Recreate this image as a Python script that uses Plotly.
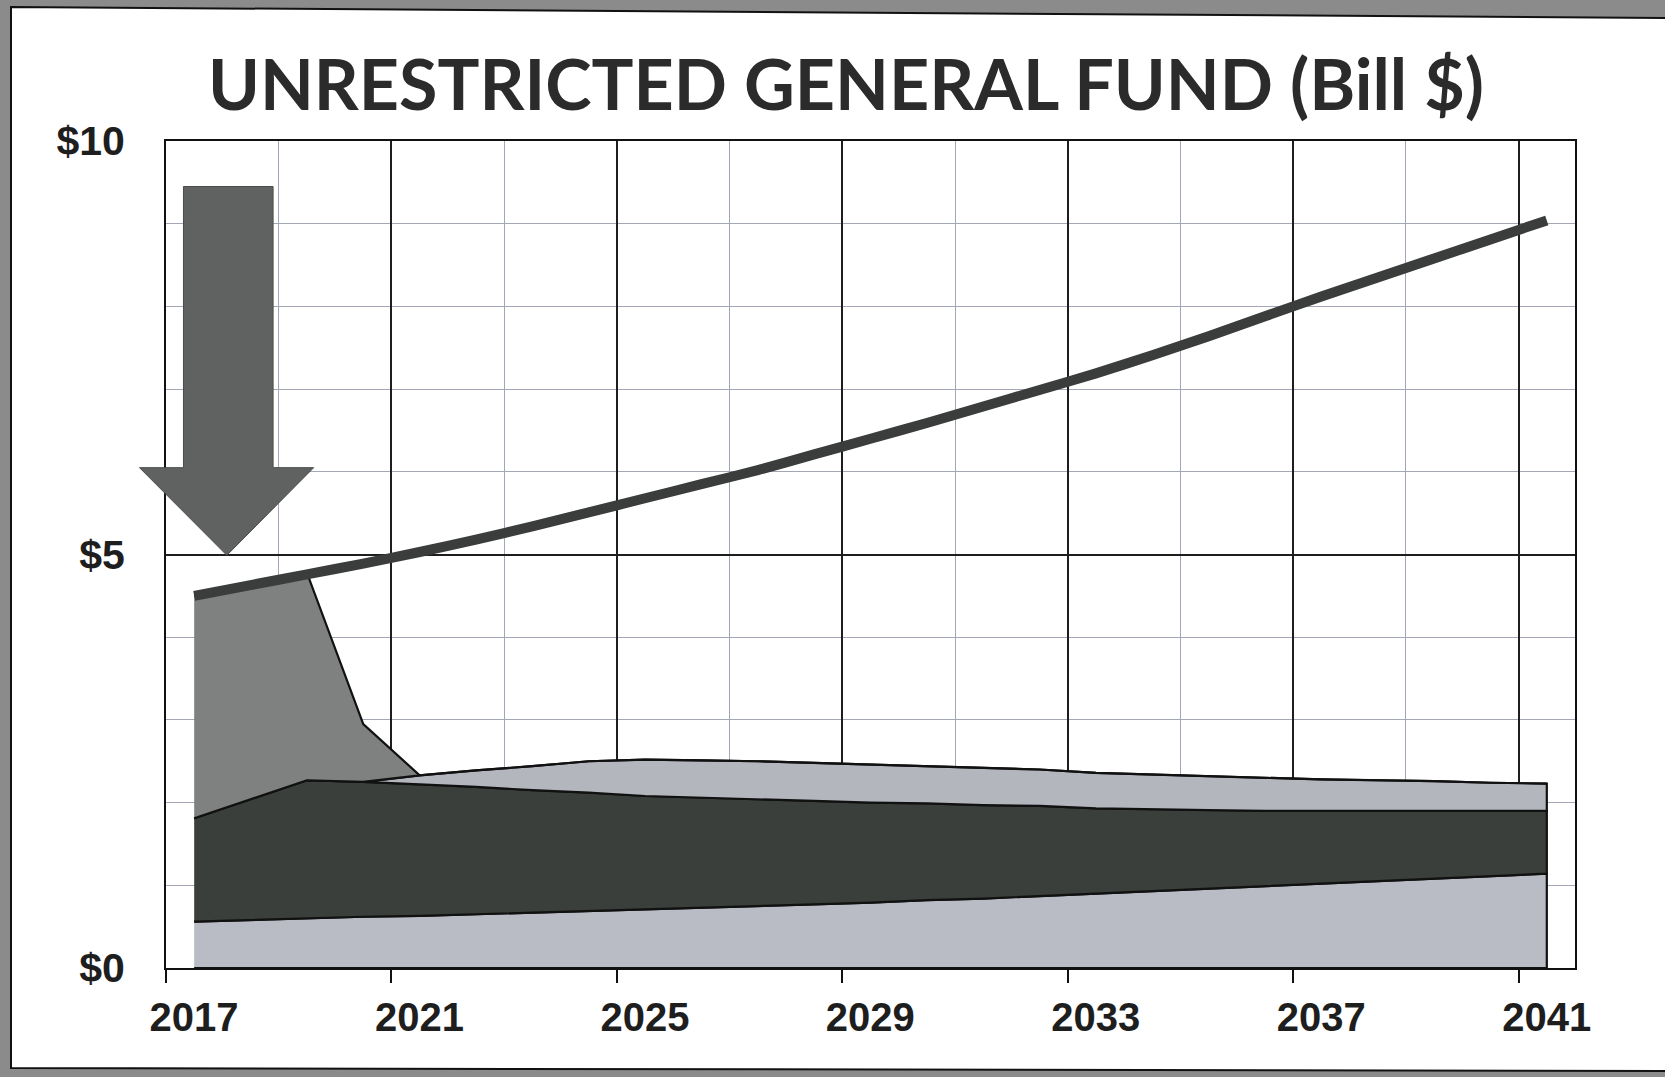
import plotly.graph_objects as go

# ---------------- data ----------------
years = list(range(2017, 2042))
base_layer = [0.56, 0.58, 0.60, 0.62, 0.63, 0.65, 0.67, 0.69, 0.71, 0.73, 0.75, 0.77, 0.79,
              0.82, 0.84, 0.87, 0.90, 0.93, 0.96, 0.99, 1.02, 1.05, 1.08, 1.11, 1.14]
dark_layer = [1.25, 1.46, 1.67, 1.63, 1.59, 1.54, 1.48, 1.43, 1.37, 1.33, 1.29, 1.25, 1.21,
              1.17, 1.13, 1.09, 1.03, 0.99, 0.95, 0.91, 0.88, 0.85, 0.82, 0.79, 0.76]
light_layer = [0.00, 0.00, 0.00, 0.00, 0.11, 0.20, 0.29, 0.38, 0.44, 0.45, 0.46, 0.46, 0.46,
               0.45, 0.45, 0.44, 0.43, 0.42, 0.41, 0.40, 0.38, 0.37, 0.36, 0.34, 0.33]
mid_layer = [2.69, 2.60, 2.51, 0.70, 0.00, 0.00, 0.00, 0.00, 0.00, 0.00, 0.00, 0.00, 0.00,
             0.00, 0.00, 0.00, 0.00, 0.00, 0.00, 0.00, 0.00, 0.00, 0.00, 0.00, 0.00]
total_line = [4.50, 4.63, 4.76, 4.89, 5.03, 5.18, 5.34, 5.51, 5.68, 5.85, 6.02, 6.21, 6.40,
              6.59, 6.79, 6.99, 7.19, 7.41, 7.64, 7.88, 8.12, 8.35, 8.58, 8.81, 9.04]
tick_labels = ["2017", "2021", "2025", "2029", "2033", "2037", "2041"]
title_text = "UNRESTRICTED GENERAL FUND (Bill $)"

# ---------------- layout geometry ----------------
W, H = 1665, 1077
ML, MR, MT, MB = 166, 90, 141, 109
PW, PH = W - ML - MR, H - MT - MB
X0, X1 = 2016.5, 2041.5


def px_to_paper(px, py):
    return (px - ML) / PW, (H - MB - py) / PH


def data_to_paper(x, y):
    return (x - X0) / (X1 - X0), y / 10.0


fig = go.Figure()

layers = [
    (base_layer, "#b9bbc5"),
    (dark_layer, "#3b3f3b"),
    (light_layer, "#b4b6be"),
    (mid_layer, "#7e817f"),
]
bottom = [0.0] * len(years)
for vals, col in layers:
    top = [b + v for b, v in zip(bottom, vals)]
    fig.add_trace(go.Scatter(
        x=years + years[::-1], y=top + bottom[::-1],
        mode="lines", fill="toself", fillcolor=col,
        line=dict(color="#111111", width=2.2), hoverinfo="skip", showlegend=False))
    bottom = top

fig.add_trace(go.Scatter(
    x=years, y=total_line, mode="lines",
    line=dict(color="#3a3d3c", width=10, shape="spline", smoothing=0.6),
    showlegend=False))

# white sheet on gray scanner background
corners = [px_to_paper(11, 7), px_to_paper(1670, 18), px_to_paper(1670, 1071), px_to_paper(11, 1068)]
path = "M " + " L ".join(f"{a:.5f},{b:.5f}" for a, b in corners) + " Z"
shapes = [dict(type="path", xref="paper", yref="paper", path=path,
               fillcolor="white", line=dict(color="#111111", width=2), layer="below")]

# big arrow (decorative)
arrow_pts = [(2016.81, 9.45), (2018.40, 9.45), (2018.40, 6.05), (2019.12, 6.05),
             (2017.58, 4.99), (2016.03, 6.05), (2016.81, 6.05)]
apath = "M " + " L ".join("%.5f,%.5f" % data_to_paper(a, b) for a, b in arrow_pts) + " Z"
shapes.append(dict(type="path", xref="paper", yref="paper", path=apath,
                   fillcolor="#5f6260", line=dict(color="#4a4c4b", width=1), layer="above"))

fig.update_layout(
    width=W, height=H,
    margin=dict(l=ML, r=MR, t=MT, b=MB),
    paper_bgcolor="#8b8b8b",
    plot_bgcolor="white",
    shapes=shapes,
    title=dict(text=title_text, xref="container", yref="container",
               x=846 / W, y=1 - 85 / H, xanchor="center", yanchor="middle",
               font=dict(family="Lato", size=70, color="#2b2b2b", weight="bold")),
    xaxis=dict(
        range=[X0, X1], tickmode="array",
        tickvals=[2016.5 + 4 * i for i in range(len(tick_labels))],
        ticktext=tick_labels, ticklabelshift=28, ticklabelstandoff=0,
        ticks="outside", ticklen=13, tickwidth=1.5, tickcolor="#111111",
        showgrid=True, gridcolor="#1e1e1e", gridwidth=1.5,
        minor=dict(tickmode="linear", tick0=2016.5, dtick=2, showgrid=True,
                   gridcolor="#a2a6b5", gridwidth=1, ticks=""),
        showline=True, linecolor="#111111", linewidth=2, mirror=True,
        zeroline=False,
        tickfont=dict(family="Liberation Sans", size=40, color="#1e1e1e", weight="bold"),
    ),
    yaxis=dict(
        range=[0, 10], tickmode="linear", tick0=0, dtick=5, tickprefix="$",
        ticks="", ticklabelstandoff=31,
        showgrid=True, gridcolor="#1e1e1e", gridwidth=1.5,
        minor=dict(tickmode="linear", tick0=0, dtick=1, showgrid=True,
                   gridcolor="#a2a6b5", gridwidth=1, ticks=""),
        showline=True, linecolor="#111111", linewidth=2, mirror=True,
        zeroline=False,
        tickfont=dict(family="Liberation Sans", size=41, color="#1e1e1e", weight="bold"),
    ),
)

fig.write_html("out.html", config={"displayModeBar": False},
               post_script="document.body.style.margin='0';document.body.style.overflow='hidden';")
